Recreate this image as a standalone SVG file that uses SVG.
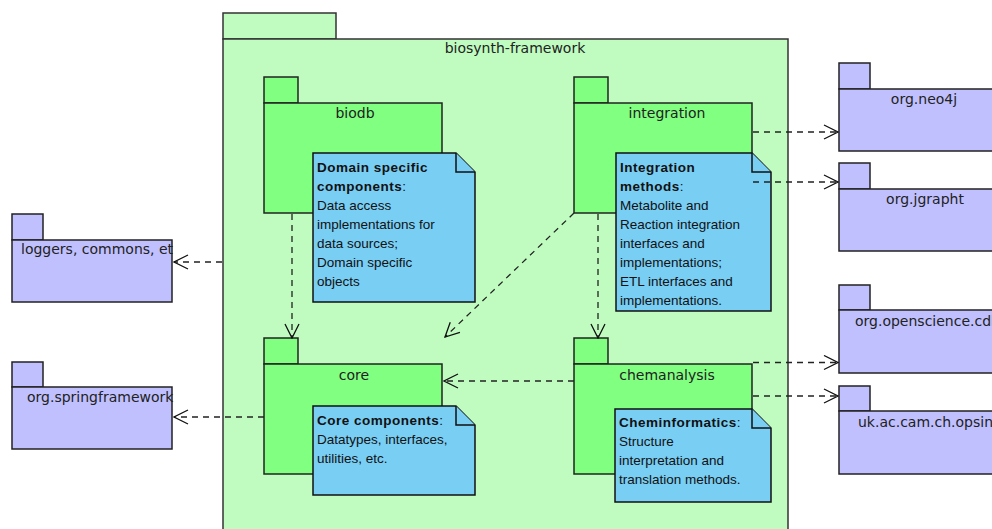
<svg xmlns="http://www.w3.org/2000/svg" width="992" height="529" viewBox="0 0 992 529">
<style>
.fw{fill:#C0FCC0;stroke:#333;stroke-width:1.5}
.pk{fill:#80FF80;stroke:#222;stroke-width:1.5}
.ext{fill:#C0C0FF;stroke:#222;stroke-width:1.5}
.note{fill:#79CEF4;stroke:#111;stroke-width:1.5}
.lbl{font-family:"DejaVu Sans",Verdana,sans-serif;font-size:14px;fill:#222}
.nt{font-family:"Liberation Sans",Arial,sans-serif;font-size:13.5px;fill:#111}
.b{font-weight:bold;letter-spacing:0.5px}
.dep{fill:none;stroke:#222;stroke-width:1.3;stroke-dasharray:6,5}
</style>
<defs>
<marker id="open" markerUnits="userSpaceOnUse" markerWidth="16" markerHeight="16" viewBox="0 0 16 16" refX="15" refY="8" orient="auto">
<path d="M1,1 L15,8 L1,15" fill="none" stroke="#111" stroke-width="1.3"/>
</marker>
</defs>
<rect width="992" height="529" fill="#fff"/>
<g id="biosynth-framework">
<rect class="fw" x="223" y="13" width="113" height="26"/>
<rect class="fw" x="223" y="39" width="565" height="500"/>
<text class="lbl" x="515" y="53" text-anchor="middle">biosynth-framework</text>
</g>
<g id="biodb">
<rect class="pk" x="264" y="77" width="34" height="26"/>
<rect class="pk" x="264" y="103" width="178" height="110"/>
<text class="lbl" x="355" y="118" text-anchor="middle">biodb</text>
<path class="note" d="M313,153 H456 L475,172 V302 H313 Z"/>
<path class="note" d="M456,153 V172 H475" fill="none"/>
<text class="nt" x="317" y="172"><tspan class="b">Domain specific</tspan><tspan x="317" dy="19" class="b">components</tspan><tspan>:</tspan><tspan x="317" dy="19">Data access</tspan><tspan x="317" dy="19">implementations for</tspan><tspan x="317" dy="19">data sources;</tspan><tspan x="317" dy="19">Domain specific</tspan><tspan x="317" dy="19">objects</tspan></text>
</g>
<g id="integration">
<rect class="pk" x="574" y="77" width="34" height="26"/>
<rect class="pk" x="574" y="103" width="178" height="110"/>
<text class="lbl" x="667" y="118" text-anchor="middle">integration</text>
<path class="note" d="M616,153 H752 L771,172 V311 H616 Z"/>
<path class="note" d="M752,153 V172 H771" fill="none"/>
<text class="nt" x="620" y="172"><tspan class="b">Integration</tspan><tspan x="620" dy="19" class="b">methods</tspan><tspan>:</tspan><tspan x="620" dy="19">Metabolite and</tspan><tspan x="620" dy="19">Reaction integration</tspan><tspan x="620" dy="19">interfaces and</tspan><tspan x="620" dy="19">implementations;</tspan><tspan x="620" dy="19">ETL interfaces and</tspan><tspan x="620" dy="19">implementations.</tspan></text>
</g>
<g id="core">
<rect class="pk" x="264" y="338" width="34" height="26"/>
<rect class="pk" x="264" y="364" width="178" height="110"/>
<text class="lbl" x="354" y="380" text-anchor="middle">core</text>
<path class="note" d="M313,406 H456 L475,425 V495 H313 Z"/>
<path class="note" d="M456,406 V425 H475" fill="none"/>
<text class="nt" x="317" y="425"><tspan class="b">Core components</tspan><tspan>:</tspan><tspan x="317" dy="19">Datatypes, interfaces,</tspan><tspan x="317" dy="19">utilities, etc.</tspan></text>
</g>
<g id="chemanalysis">
<rect class="pk" x="574" y="338" width="34" height="26"/>
<rect class="pk" x="574" y="364" width="178" height="110"/>
<text class="lbl" x="667" y="380" text-anchor="middle">chemanalysis</text>
<path class="note" d="M615,409 H752 L771,428 V502 H615 Z"/>
<path class="note" d="M752,409 V428 H771" fill="none"/>
<text class="nt" x="619" y="427"><tspan class="b">Cheminformatics</tspan><tspan>:</tspan><tspan x="619" dy="19">Structure</tspan><tspan x="619" dy="19">interpretation and</tspan><tspan x="619" dy="19">translation methods.</tspan></text>
</g>
<g id="loggers">
<rect class="ext" x="12" y="214" width="31" height="26"/>
<rect class="ext" x="12" y="240" width="160" height="62"/>
<text class="lbl" x="21" y="254">loggers, commons, et</text>
</g>
<g id="springframework">
<rect class="ext" x="12" y="362" width="31" height="25"/>
<rect class="ext" x="12" y="387" width="160" height="62"/>
<text class="lbl" x="27" y="402">org.springframework</text>
</g>
<g id="neo4j">
<rect class="ext" x="839" y="63" width="31" height="26"/>
<rect class="ext" x="839" y="89" width="170" height="62"/>
<text class="lbl" x="924" y="104" text-anchor="middle">org.neo4j</text>
</g>
<g id="jgrapht">
<rect class="ext" x="839" y="163" width="31" height="26"/>
<rect class="ext" x="839" y="189" width="170" height="62"/>
<text class="lbl" x="925" y="204" text-anchor="middle">org.jgrapht</text>
</g>
<g id="cdk">
<rect class="ext" x="839" y="285" width="31" height="25"/>
<rect class="ext" x="839" y="310" width="170" height="63"/>
<text class="lbl" x="855" y="326">org.openscience.cdk</text>
</g>
<g id="opsin">
<rect class="ext" x="839" y="386" width="31" height="25"/>
<rect class="ext" x="839" y="411" width="170" height="63"/>
<text class="lbl" x="858" y="427">uk.ac.cam.ch.opsin</text>
</g>
<g id="connectors">
<path class="dep" d="M222,262 H174" marker-end="url(#open)"/>
<path class="dep" d="M264,417 H174" marker-end="url(#open)"/>
<path class="dep" d="M753,132 H838" marker-end="url(#open)"/>
<path class="dep" d="M753,182 H838" marker-end="url(#open)"/>
<path class="dep" d="M753,362.5 H838" marker-end="url(#open)"/>
<path class="dep" d="M753,396 H838" marker-end="url(#open)"/>
<path class="dep" d="M292,214 V338" marker-end="url(#open)"/>
<path class="dep" d="M598,214 V338" marker-end="url(#open)"/>
<path class="dep" d="M574,213 L445,337" marker-end="url(#open)"/>
<path class="dep" d="M574,381 H444" marker-end="url(#open)"/>
</g>
</svg>
